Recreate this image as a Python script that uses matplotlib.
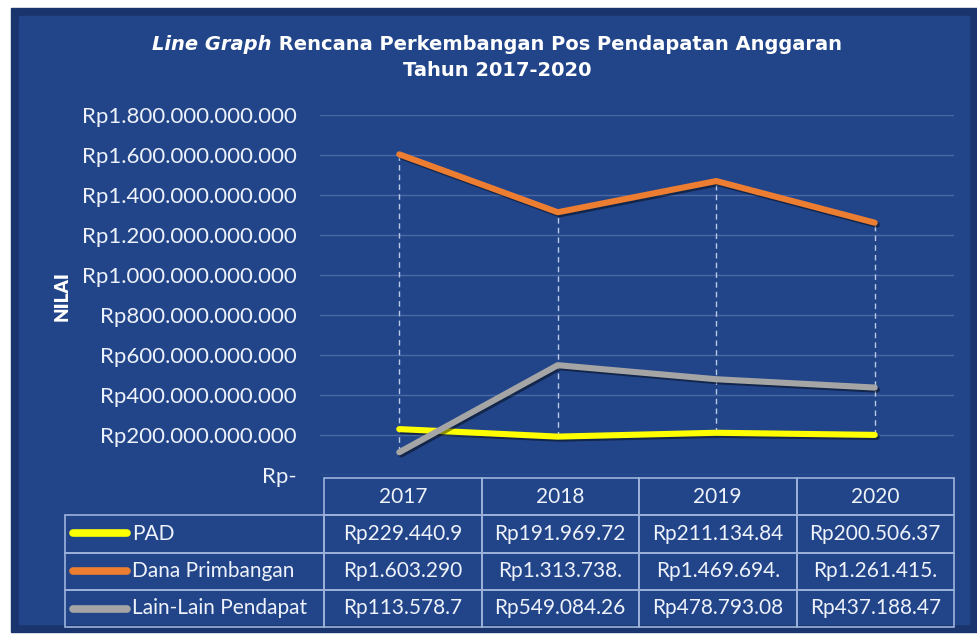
import numpy as np
import matplotlib
matplotlib.use("Agg")
import matplotlib.pyplot as plt
import matplotlib.patheffects as pe
from matplotlib.patches import Rectangle
from matplotlib.lines import Line2D
from matplotlib.colors import LinearSegmentedColormap
from matplotlib.ticker import FuncFormatter, MultipleLocator

# data (in Rupiah)
years = ["2017", "2018", "2019", "2020"]
pad = [229.44e9, 191.97e9, 211.13e9, 200.51e9]
dana = [1603.29e9, 1313.74e9, 1469.69e9, 1261.42e9]
lain = [113.58e9, 549.08e9, 478.79e9, 437.19e9]

series_names = ["PAD", "Dana Primbangan", "Lain-Lain Pendapat"]
series_colors = ["#ffff00", "#ed7d31", "#a5a5a5"]
# table texts as shown (Excel clips them)
table_text = [
    ["Rp229.440.9", "Rp191.969.72", "Rp211.134.84", "Rp200.506.37"],
    ["Rp1.603.290", "Rp1.313.738.", "Rp1.469.694.", "Rp1.261.415."],
    ["Rp113.578.7", "Rp549.084.26", "Rp478.793.08", "Rp437.188.47"],
]

plt.rcParams['font.family'] = ['Lato', 'DejaVu Sans']

W, H = 978, 635
fig = plt.figure(figsize=(W / 100, H / 100), dpi=100, facecolor="white")

# background frame
bg = fig.add_axes([0, 0, 1, 1], zorder=-10)
bg.set_xlim(0, W)
bg.set_ylim(H, 0)
bg.axis("off")
bg.add_patch(Rectangle((11, 8), W - 11, H - 11, color="#1a356d"))
bg.add_patch(Rectangle((19, 16), W - 28, H - 27, color="#22458a"))
grad = np.linspace(0, 1, 256)[None, :]
cmap = LinearSegmentedColormap.from_list("bg", ["#1f3f7e", "#22468a", "#2d5cae"])
bg.imshow(grad, cmap=cmap, extent=(23, W - 13, H - 14, 21), aspect="auto")

ax = fig.add_axes([320 / W, (H - 475) / H, 634 / W, 360 / H], zorder=1)
ax.set_facecolor("none")

x = np.arange(len(years))
data = [pad, dana, lain]

# high-low lines
lows = np.min(data, axis=0)
highs = np.max(data, axis=0)
ax.vlines(x, lows, highs, colors="#b9c9e6", linestyles=(0, (4, 3)), lw=1, zorder=2)

for vals, c in zip(data, series_colors):
    ax.plot(x, vals, color=c, lw=4.4, solid_capstyle="round", zorder=3,
            path_effects=[pe.SimpleLineShadow(offset=(1.5, -1.5), shadow_color="black", alpha=0.45),
                          pe.Normal()])

ax.set_xlim(-0.5, 3.5)
ax.set_ylim(0, 1.8e12)
ax.yaxis.set_major_locator(MultipleLocator(2e11))


def rupiah(v, pos):
    if v == 0:
        return "Rp-"
    return "Rp" + f"{v:,.0f}".replace(",", ".")


ax.yaxis.set_major_formatter(FuncFormatter(rupiah))
ax.grid(axis="y", color="#5573ab", lw=1, alpha=0.8)
ax.set_axisbelow(True)
ax.tick_params(axis="y", length=0, pad=16.5, labelcolor="#eef2fa", labelsize=16)
ax.tick_params(axis="x", length=0, labelbottom=False)
for s in ax.spines.values():
    s.set_visible(False)

# data table
cell_text = [[""] + years] + [[n] + r for n, r in zip(series_names, table_text)]
tab = ax.table(cellText=cell_text, cellLoc="center",
               colWidths=[259, 157.5, 157.5, 157.5, 157.5],
               bbox=[(65 - 320) / 634, -(627 - 475) / 360, 889 / 634, 149 / 360])
tab.auto_set_font_size(False)
tab.set_fontsize(15)
for (r, c), cell in tab.get_celld().items():
    cell.set_facecolor("none")
    cell.set_edgecolor("#9db3dc")
    cell.set_linewidth(1.2)
    cell.get_text().set_color("#eef2fa")
    if r == 0 and c == 0:
        cell.visible_edges = "open"
    if c == 0 and r > 0:
        cell._loc = "left"
        cell.get_text().set_ha("left")
        cell.PAD = 67 / 259
for i, c in enumerate(series_colors):
    yy = (475 - (533 + 38 * i)) / 360
    ax.add_line(Line2D([(73 - 320) / 634, (127 - 320) / 634], [yy, yy], transform=ax.transAxes,
                       color=c, lw=5.5, solid_capstyle="round", clip_on=False, zorder=5))

# y label
fig.text(62 / W, 1 - 296 / H, "NILAI", rotation=90, color="white", fontsize=13.5,
         fontweight="heavy", ha="center", va="center")

# title (mixed italic / normal)
fig.canvas.draw()
r = fig.canvas.get_renderer()
tfont = ['DejaVu Sans']
ty = 1 - 45 / H
t1 = fig.text(0, ty, "Line Graph", color="white", fontsize=14, fontweight="bold",
              style="italic", ha="left", va="center", family=tfont)
t2 = fig.text(0, ty, " Rencana Perkembangan Pos Pendapatan Anggaran", color="white",
              fontsize=14, fontweight="bold", ha="left", va="center", family=tfont)
w1 = t1.get_window_extent(r).width
w2 = t2.get_window_extent(r).width
x0 = (497 - (w1 + w2) / 2) / W
t1.set_x(x0)
t2.set_x(x0 + w1 / W)
fig.text(497 / W, 1 - 71 / H, "Tahun 2017-2020", color="white", fontsize=14,
         fontweight="bold", ha="center", va="center", family=tfont)

fig.savefig("out.png", dpi=100, facecolor="white")
